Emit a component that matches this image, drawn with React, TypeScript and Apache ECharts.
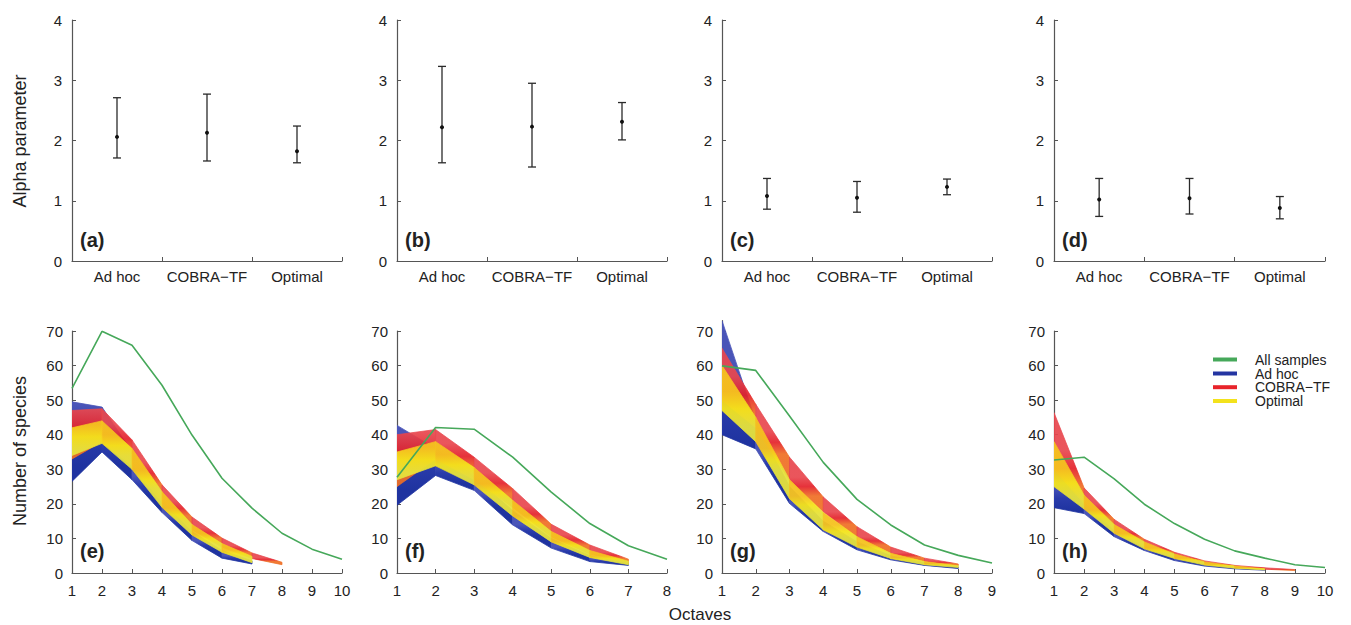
import React, { useEffect, useRef } from "react";
import * as echarts from "echarts";

const FONT = '"Liberation Sans", Arial, sans-serif';

const methods = ["Ad hoc", "COBRA\u2212TF", "Optimal"];
const alphaPanelLabels = ["(a)", "(b)", "(c)", "(d)"];
const curvePanelLabels = ["(e)", "(f)", "(g)", "(h)"];
const legendNames = ["All samples", "Ad hoc", "COBRA\u2212TF", "Optimal"];

// Alpha parameter: mean, lower and upper ends of the error bars
const alphaMeanA = [2.06, 2.13, 1.82];
const alphaLowA = [1.71, 1.66, 1.63];
const alphaHighA = [2.71, 2.77, 2.24];
const alphaMeanB = [2.22, 2.23, 2.31];
const alphaLowB = [1.63, 1.56, 2.01];
const alphaHighB = [3.23, 2.95, 2.63];
const alphaMeanC = [1.08, 1.05, 1.23];
const alphaLowC = [0.86, 0.81, 1.1];
const alphaHighC = [1.37, 1.32, 1.36];
const alphaMeanD = [1.02, 1.04, 0.88];
const alphaLowD = [0.74, 0.78, 0.7];
const alphaHighD = [1.37, 1.37, 1.07];

// Number of species per octave
const allE = [53.4, 69.9, 65.9, 54.3, 39.9, 27.4, 18.75, 11.5, 6.9, 4.0];
const adhocLoE = [26.5, 35, 27, 17.5, 9.4, 4.3, 2.6];
const adhocHiE = [49.5, 48, 35, 21, 12, 6.5, 3.5];
const cobraLoE = [33, 38, 31, 20.5, 12.5, 7.5, 4.2, 2.4];
const cobraHiE = [47, 47.5, 38.5, 25.5, 16.2, 10.1, 5.8, 3.1];
const optLoE = [34, 37.5, 30, 19, 11, 6, 3];
const optHiE = [42, 44, 36, 23.5, 14, 8.5, 4.8];

const allF = [27.7, 42.1, 41.6, 33.5, 23.4, 14.3, 7.9, 4.0];
const adhocLoF = [19.6, 28.2, 23.9, 13.9, 7.2, 3.3, 2.2];
const adhocHiF = [42.7, 36, 28, 18, 10, 5, 3];
const cobraLoF = [25, 33, 27, 19, 10.5, 5.5, 2.8];
const cobraHiF = [40, 41.5, 33.5, 24.4, 14.1, 8.1, 4.0];
const optLoF = [27, 31, 25.5, 16.5, 9, 4.5, 2.4];
const optHiF = [35, 38, 30.5, 21, 12, 6.5, 3.4];

const allG = [59.9, 58.6, 45.4, 32.0, 21.3, 13.9, 8.1, 5.1, 2.9];
const adhocLoG = [40, 35.9, 20.1, 12, 6.7, 3.8, 2.2, 1.3];
const adhocHiG = [73, 44, 25, 15, 9, 5, 3, 1.8];
const cobraLoG = [50, 42, 26.8, 17.7, 10.5, 5.7, 3.3, 2.1];
const cobraHiG = [65, 48.8, 33.5, 22, 13.4, 7.5, 4.3, 2.6];
const optLoG = [47, 38, 21.5, 12.5, 7.5, 4.2, 2.4, 1.6];
const optHiG = [60, 45, 27, 17.5, 10.5, 5.7, 3.3, 2.1];

const allH = [32.7, 33.5, 27.2, 19.9, 14.3, 9.75, 6.4, 4.3, 2.4, 1.6];
const adhocLoH = [18.9, 17.2, 10.5, 6.5, 3.6, 2, 1.2, 0.8];
const adhocHiH = [30, 20.5, 12.5, 8, 4.8, 2.8, 1.7, 1.1];
const cobraLoH = [30, 20, 12.5, 7.5, 4.5, 2.6, 1.6, 1.1, 0.7];
const cobraHiH = [46.4, 24.6, 15.5, 9.75, 6.0, 3.5, 2.2, 1.5, 1.0];
const optLoH = [25, 18.5, 11.5, 7, 4.2, 2.3, 1.4, 0.9];
const optHiH = [38, 22.5, 14, 9, 5.5, 3.2, 2.0, 1.2];

const octaveMaxes = [10, 8, 9, 10];
const speciesMaxes = [70, 70, 73, 70];

const COL_ALL = "#46a85a";
const COL_ADHOC = "#2435a2";
const COL_COBRA = "#e8242a";
const COL_OPT = "#f3e21c";
const legendColors = [COL_ALL, COL_ADHOC, COL_COBRA, COL_OPT];

// colour ramps across each band (top -> bottom), used as shading only
const RAMP_ADHOC = ["#4a55b8", "#2a3cab", "#1f33a0"];
const RAMP_COBRA = ["#e8474e", "#e4212a", "#ef6f24"];
const RAMP_OPT = ["#f5c21f", "#f4e41b", "#e6e23c"];

const AXIS = "#555";
const TXT = "#222";

const lefts = [72, 397, 722, 1054];
const widths = [270, 270, 270, 271];

function errSeries(gi: number, mean: number[], low: number[], high: number[]) {
  const data = mean.map((m, i) => [i, low[i], m, high[i]]);
  return {
    type: "custom",
    xAxisIndex: gi,
    yAxisIndex: gi,
    data,
    encode: { x: 0, y: [1, 3] },
    silent: true,
    renderItem: (params: any, api: any) => {
      const x = api.value(0);
      const lo = api.coord([x, api.value(1)]);
      const me = api.coord([x, api.value(2)]);
      const hi = api.coord([x, api.value(3)]);
      const cw = 4;
      const st = { stroke: "#2a2a2a", lineWidth: 1.3 };
      return {
        type: "group",
        children: [
          { type: "line", shape: { x1: lo[0], y1: lo[1], x2: hi[0], y2: hi[1] }, style: st },
          { type: "line", shape: { x1: hi[0] - cw, y1: hi[1], x2: hi[0] + cw, y2: hi[1] }, style: st },
          { type: "line", shape: { x1: lo[0] - cw, y1: lo[1], x2: lo[0] + cw, y2: lo[1] }, style: st },
          { type: "circle", shape: { cx: me[0], cy: me[1], r: 2 }, style: { fill: "#111" } },
        ],
      };
    },
  };
}

function bandSeries(gi: number, name: string, lo: number[], hi: number[], ramp: string[], opacity: number, z: number) {
  const data = lo.map((l, i) => [i + 1, l, hi[i]]);
  return {
    type: "custom",
    name,
    xAxisIndex: 4 + gi,
    yAxisIndex: 4 + gi,
    data,
    encode: { x: 0, y: [1, 2] },
    silent: true,
    z,
    clip: true,
    renderItem: (params: any, api: any) => {
      const i = params.dataIndex;
      if (i >= data.length - 1) return null;
      const u0 = api.coord([data[i][0], data[i][2]]);
      const u1 = api.coord([data[i + 1][0], data[i + 1][2]]);
      const l0 = api.coord([data[i][0], data[i][1]]);
      const l1 = api.coord([data[i + 1][0], data[i + 1][1]]);
      const grad = new echarts.graphic.LinearGradient(
        (u0[0] + u1[0]) / 2,
        (u0[1] + u1[1]) / 2,
        (l0[0] + l1[0]) / 2 + 0.01,
        (l0[1] + l1[1]) / 2 + 0.01,
        [
          { offset: 0, color: ramp[0] },
          { offset: 0.5, color: ramp[1] },
          { offset: 1, color: ramp[2] },
        ],
        true
      );
      return {
        type: "polygon",
        shape: { points: [u0, u1, l1, l0] },
        style: { fill: grad, stroke: grad, lineWidth: 0.8, opacity },
      };
    },
  };
}

function allSeries(gi: number, vals: number[]) {
  return {
    type: "line",
    name: "All samples",
    xAxisIndex: 4 + gi,
    yAxisIndex: 4 + gi,
    data: vals.map((v, i) => [i + 1, v]),
    symbol: "none",
    silent: true,
    z: 10,
    lineStyle: { color: COL_ALL, width: 1.6 },
  };
}

export default function App() {
  const ref = useRef<HTMLDivElement>(null);
  useEffect(() => {
    if (!ref.current) return;
    const chart = echarts.init(ref.current, null, { renderer: "svg" });

    const grids: any[] = [];
    const xAxes: any[] = [];
    const yAxes: any[] = [];
    const axisCommon = {
      axisLine: { show: true, lineStyle: { color: AXIS, width: 1.2 } },
      axisTick: { show: true, inside: true, length: 4, lineStyle: { color: AXIS } },
      splitLine: { show: false },
    };
    for (let i = 0; i < 4; i++) {
      grids.push({ left: lefts[i], top: 20, width: widths[i], height: 241, containLabel: false });
      xAxes.push({
        ...axisCommon,
        type: "category",
        gridIndex: i,
        data: methods,
        boundaryGap: true,
        axisTick: { ...axisCommon.axisTick, alignWithLabel: false, interval: 0 },
        axisLabel: { interval: 0, fontSize: 15, color: TXT, fontFamily: FONT, margin: 8 },
      });
      yAxes.push({
        ...axisCommon,
        type: "value",
        gridIndex: i,
        min: 0,
        max: 4,
        interval: 1,
        axisLabel: { fontSize: 15, color: TXT, fontFamily: FONT, margin: 10 },
      });
    }
    for (let i = 0; i < 4; i++) {
      const ymax = speciesMaxes[i];
      const h = (242 * ymax) / 70;
      grids.push({ left: lefts[i], top: 573 - h, width: widths[i], height: h, containLabel: false });
      xAxes.push({
        ...axisCommon,
        type: "value",
        gridIndex: 4 + i,
        min: 1,
        max: octaveMaxes[i],
        interval: 1,
        axisLabel: { fontSize: 15, color: TXT, fontFamily: FONT, margin: 10 },
      });
      yAxes.push({
        ...axisCommon,
        type: "value",
        gridIndex: 4 + i,
        min: 0,
        max: ymax,
        interval: 10,
        axisLabel: {
          fontSize: 15,
          color: TXT,
          fontFamily: FONT,
          margin: 9,
          showMaxLabel: ymax % 10 === 0,
          formatter: (v: number) => (v % 10 === 0 ? String(v) : ""),
        },
      });
    }

    const series: any[] = [
      errSeries(0, alphaMeanA, alphaLowA, alphaHighA),
      errSeries(1, alphaMeanB, alphaLowB, alphaHighB),
      errSeries(2, alphaMeanC, alphaLowC, alphaHighC),
      errSeries(3, alphaMeanD, alphaLowD, alphaHighD),
    ];
    const bands = [
      [allE, adhocLoE, adhocHiE, cobraLoE, cobraHiE, optLoE, optHiE],
      [allF, adhocLoF, adhocHiF, cobraLoF, cobraHiF, optLoF, optHiF],
      [allG, adhocLoG, adhocHiG, cobraLoG, cobraHiG, optLoG, optHiG],
      [allH, adhocLoH, adhocHiH, cobraLoH, cobraHiH, optLoH, optHiH],
    ];
    bands.forEach((b, i) => {
      series.push(bandSeries(i, "Ad hoc", b[1], b[2], RAMP_ADHOC, 1, 2));
      series.push(bandSeries(i, "COBRA\u2212TF", b[3], b[4], RAMP_COBRA, 0.92, 3));
      series.push(bandSeries(i, "Optimal", b[5], b[6], RAMP_OPT, 0.95, 4));
      series.push(allSeries(i, b[0]));
    });

    const graphic: any[] = [];
    const txt = (x: number, y: number, text: string, size: number, opts: any = {}) => ({
      type: "text",
      x,
      y,
      rotation: opts.rotation || 0,
      silent: true,
      style: {
        text,
        fill: TXT,
        fontSize: size,
        fontFamily: FONT,
        fontWeight: opts.bold ? "bold" : "normal",
        lineHeight: opts.lineHeight || undefined,
        textAlign: opts.align || "left",
        textVerticalAlign: "middle",
        align: opts.align || "left",
        verticalAlign: "middle",
      },
    });
    alphaPanelLabels.forEach((l, i) => graphic.push(txt(lefts[i] + 8, 240, l, 20, { bold: true })));
    curvePanelLabels.forEach((l, i) => graphic.push(txt(lefts[i] + 8, 551, l, 20, { bold: true })));
    graphic.push(txt(20, 141, "Alpha parameter", 18, { rotation: Math.PI / 2, align: "center" }));
    graphic.push(txt(20, 451, "Number of species", 18, { rotation: Math.PI / 2, align: "center" }));
    graphic.push(txt(700, 614, "Octaves", 17, { align: "center" }));
    const legendY = [359.5, 373.5, 387.2, 401];
    legendNames.forEach((n, i) => {
      graphic.push({
        type: "line",
        silent: true,
        shape: { x1: 1213, y1: legendY[i], x2: 1237, y2: legendY[i] },
        style: { stroke: legendColors[i], lineWidth: 4 },
      });
      graphic.push(txt(1255, legendY[i], n, 14, { lineHeight: 12 }));
    });

    chart.setOption({
      animation: false,
      backgroundColor: "#ffffff",
      grid: grids,
      xAxis: xAxes,
      yAxis: yAxes,
      series,
      graphic,
    });
    return () => chart.dispose();
  }, []);
  return (
    <div
      ref={ref}
      style={{ position: "fixed", left: 0, top: 0, width: 1351, height: 625, background: "#fff" }}
    />
  );
}
